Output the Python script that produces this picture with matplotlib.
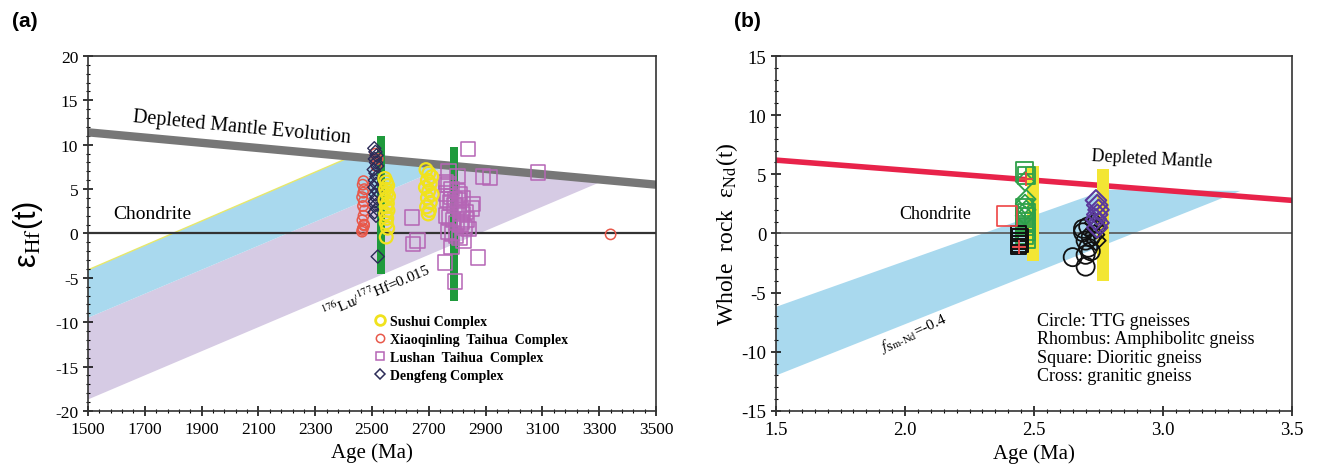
import matplotlib
matplotlib.use("Agg")
import matplotlib.pyplot as plt
from matplotlib.lines import Line2D
from matplotlib.ticker import MultipleLocator, AutoMinorLocator

plt.rcParams['mathtext.fontset'] = 'stix'
plt.rcParams['axes.unicode_minus'] = False
SERIF = ['Liberation Serif', 'DejaVu Serif']

# ---------------- panel (a): zircon Hf data ----------------
a_xticks = [1500, 1700, 1900, 2100, 2300, 2500, 2700, 2900, 3100, 3300, 3500]

dm_a_age = [1500, 3500]
dm_a_eps = [11.4, 5.5]

# crustal evolution bands (age, eps corners)
blue_age = [1500, 2400, 2763, 1500]
blue_eps = [-4.1, 8.3, 7.6, -9.5]
purple_age = [1500, 2763, 3319, 1500]
purple_eps = [-9.5, 7.6, 6.0, -18.7]

# green age bars: centre, bottom, top
bar_a_age = [2530, 2790]
bar_a_bottom = [-4.6, -7.6]
bar_a_top = [11.0, 9.8]

xq_age = [2465, 2468, 2472, 2466, 2470, 2474, 2468, 2471, 2465, 2469, 2473, 2467,
          2470, 2466, 2472, 2515, 2520, 2512, 3340]
xq_eps = [0.2, 0.6, 1.0, 1.5, 2.0, 2.6, 3.1, 3.6, 4.1, 4.6, 5.0, 5.5,
          5.9, 0.4, 0.9, 7.6, 8.4, 9.0, -0.1]

df_age = [2508, 2512, 2516, 2510, 2514, 2518, 2506, 2512, 2516, 2510, 2514, 2508,
          2518, 2512, 2515, 2510, 2513, 2517, 2509, 2514, 2520]
df_eps = [9.6, 9.2, 8.8, 8.4, 8.0, 7.6, 7.2, 6.8, 6.4, 6.0, 5.6, 5.2,
          4.8, 4.4, 4.0, 3.6, 3.2, 2.8, 2.4, 2.0, -2.6]

ss_age = [2545, 2550, 2555, 2548, 2552, 2558, 2546, 2554, 2550, 2556, 2548, 2552,
          2550, 2555, 2550, 2690, 2700, 2710, 2695, 2705, 2688, 2700, 2712, 2695,
          2705, 2692, 2702, 2698]
ss_eps = [6.2, 5.8, 5.4, 5.0, 4.6, 4.2, 3.8, 3.4, 3.0, 2.6, 2.2, 1.7,
          1.2, 0.6, -0.4, 7.2, 6.8, 6.4, 6.0, 5.6, 5.2, 4.8, 4.4, 4.0,
          3.5, 3.0, 2.6, 2.2]

ls_age = [2641, 2644, 2660, 2757, 2792, 2873, 2838, 2890, 2915, 3085, 2856,
          2760, 2770, 2780, 2800, 2810, 2820, 2765, 2775, 2790, 2805, 2815, 2830,
          2760, 2772, 2785, 2798, 2812, 2825, 2840, 2768, 2782, 2795, 2808, 2822,
          2762, 2778, 2792, 2806, 2818, 2835, 2770, 2800, 2850, 2780, 2815]
ls_eps = [1.8, -1.2, -0.8, -3.3, -5.4, -2.7, 9.5, 6.4, 6.3, 6.9, 3.3,
          5.8, 5.5, 5.0, 4.8, 4.4, 4.0, 3.8, 3.5, 3.2, 3.0, 2.6, 2.4,
          2.0, 1.8, 1.5, 1.2, 1.0, 0.7, 0.5, 0.2, 0.0, -0.3, -0.5, -0.8,
          4.5, 4.2, 3.9, 3.7, 2.2, 1.6, 7.0, 6.5, 2.8, -1.5, 1.3]

# ---------------- panel (b): whole rock Nd data ----------------
dm_b_age = [1.5, 3.5]
dm_b_eps = [6.2, 2.8]

band_b_age = [1.5, 2.78, 3.3, 1.5]
band_b_eps = [-6.2, 3.7, 3.6, -12.0]

bar_b_age = [2.496, 2.767]
bar_b_bottom = [-2.3, -4.0]
bar_b_top = [5.7, 5.45]

g_sq_age = [2.465, 2.47, 2.465, 2.47, 2.465, 2.47, 2.465, 2.47, 2.465, 2.47]
g_sq_eps = [5.3, 4.9, 2.2, 1.8, 1.4, 1.0, 0.6, 0.2, -0.2, -0.5]
g_dm_age = [2.465, 2.47, 2.465, 2.47, 2.465]
g_dm_eps = [4.4, 2.9, 2.5, 2.0, 1.5]
g_cr_age = [2.47, 2.465, 2.47]
g_cr_eps = [5.0, 1.2, 0.1]

k_sq_age = [2.44, 2.445, 2.44, 2.445, 2.44]
k_sq_eps = [0.0, -0.3, -0.6, -0.9, -1.1]
k_ci_age = [2.65, 2.70, 2.69, 2.72, 2.70, 2.71, 2.69, 2.72, 2.70, 2.71]
k_ci_eps = [-2.0, -2.8, 0.4, -1.5, -0.6, -1.2, 0.1, -0.3, -1.8, 0.6]
k_dm_age = [2.735, 2.74, 2.735, 2.74]
k_dm_eps = [0.9, 0.4, -0.1, -0.6]

p_dm_age = [2.74, 2.745, 2.75, 2.745, 2.74, 2.75, 2.745]
p_dm_eps = [2.8, 2.4, 2.0, 1.6, 1.2, 0.9, 0.5]

r_sq_age = [2.395]
r_sq_eps = [1.5]
r_cr_age = [2.47, 2.44]
r_cr_eps = [4.6, -1.1]

fig = plt.figure(figsize=(13.2, 4.77), dpi=100)
ax1 = fig.add_axes([0.0667, 0.1363, 0.4303, 0.7442])
ax2 = fig.add_axes([0.5879, 0.1363, 0.3909, 0.7442])

# ---- (a)
ax1.fill(purple_age, purple_eps, color='#d6cbe4', lw=0, zorder=1)
ax1.fill(blue_age, blue_eps, color='#a9d9ee', lw=0, zorder=1)
ax1.plot(blue_age[:2], blue_eps[:2], color='#e8e86a', lw=1, zorder=1.5)
ax1.axhline(0, color='#333333', lw=1.6, zorder=2)
ax1.plot(dm_a_age, dm_a_eps, color='#777777', lw=6, zorder=2, solid_capstyle='butt')
ax1.bar(bar_a_age, [t - b for t, b in zip(bar_a_top, bar_a_bottom)], bottom=bar_a_bottom,
        width=28, color='#1f9a3c', zorder=3)

ax1.scatter(ls_age, ls_eps, marker='s', s=110, facecolors='none', edgecolors='#b565b5',
            linewidths=1.1, zorder=4)
ax1.scatter(xq_age, xq_eps, marker='o', s=55, facecolors='none', edgecolors='#e8584a',
            linewidths=1.1, zorder=4)
ax1.scatter(df_age, df_eps, marker='D', s=45, facecolors='none', edgecolors='#2c2c58',
            linewidths=1.0, zorder=4)
ax1.scatter(ss_age, ss_eps, marker='o', s=85, facecolors='none', edgecolors='#f0e21e',
            linewidths=1.6, zorder=5)

ax1.set_xlim(1500, 3500)
ax1.set_ylim(-20, 20)
ax1.set_xticks(a_xticks)
ax1.xaxis.set_minor_locator(AutoMinorLocator(5))
ax1.yaxis.set_major_locator(MultipleLocator(5))
ax1.yaxis.set_minor_locator(MultipleLocator(1))

ax1.text(2040, 12.0, 'Depleted Mantle Evolution', rotation=-5.5, ha='center', va='center',
         family=SERIF, fontsize=14.5)
ax1.text(1725, 2.2, 'Chondrite', ha='center', va='center', family=SERIF, fontsize=14)
ax1.text(2514, -6.4, r'$^{176}$Lu/$^{177}$Hf=0.015', rotation=23, ha='center', va='center',
         family=SERIF, fontsize=11)

handles = [
    Line2D([], [], ls='none', marker='o', ms=7, mfc='none', mec='#f0e21e', mew=2),
    Line2D([], [], ls='none', marker='o', ms=6, mfc='none', mec='#e8584a', mew=1.1),
    Line2D([], [], ls='none', marker='s', ms=6, mfc='none', mec='#b565b5', mew=1.1),
    Line2D([], [], ls='none', marker='D', ms=5, mfc='none', mec='#2c2c58', mew=1.1),
]
labels = ['Sushui Complex', 'Xiaoqinling  Taihua  Complex', 'Lushan  Taihua  Complex',
          'Dengfeng Complex']
ax1.legend(handles, labels, loc='upper left', bbox_to_anchor=(0.49, 0.29), frameon=False,
           prop={'family': SERIF, 'size': 10, 'weight': 'bold'}, handletextpad=0.2,
           labelspacing=0.35, handlelength=1.0, borderpad=0)

ax1.set_xlabel('Age (Ma)', family=SERIF, fontsize=15)
ax1.set_ylabel(r'ε$_{\rm Hf}$(t)', family=['Liberation Sans', 'DejaVu Sans'], fontsize=22)
ax1.yaxis.set_label_coords(-0.075, 0.5)

# ---- (b)
ax2.fill(band_b_age, band_b_eps, color='#a9d9ee', lw=0, zorder=1)
ax2.axhline(0, color='#555555', lw=1.2, zorder=2)
ax2.plot(dm_b_age, dm_b_eps, color='#e8234a', lw=4, zorder=2)
ax2.bar(bar_b_age, [t - b for t, b in zip(bar_b_top, bar_b_bottom)], bottom=bar_b_bottom,
        width=0.045, color='#f3e634', zorder=3)

ax2.scatter(g_sq_age, g_sq_eps, marker='s', s=150, facecolors='none', edgecolors='#2ea04a',
            linewidths=1.3, zorder=4)
ax2.scatter(g_dm_age, g_dm_eps, marker='D', s=90, facecolors='none', edgecolors='#2ea04a',
            linewidths=1.3, zorder=4)
ax2.scatter(g_cr_age, g_cr_eps, marker='+', s=110, color='#2ea04a', linewidths=1.3, zorder=4)
ax2.scatter(k_sq_age, k_sq_eps, marker='s', s=130, facecolors='none', edgecolors='#111111',
            linewidths=1.4, zorder=4)
ax2.scatter(k_ci_age, k_ci_eps, marker='o', s=170, facecolors='none', edgecolors='#111111',
            linewidths=1.3, zorder=4)
ax2.scatter(k_dm_age, k_dm_eps, marker='D', s=100, facecolors='none', edgecolors='#111111',
            linewidths=1.3, zorder=4)
ax2.scatter(p_dm_age, p_dm_eps, marker='D', s=110, facecolors='none', edgecolors='#5b3a9c',
            linewidths=1.5, zorder=4)
ax2.scatter(r_sq_age, r_sq_eps, marker='s', s=200, facecolors='none', edgecolors='#ee4444',
            linewidths=1.2, zorder=4)
ax2.scatter(r_cr_age, r_cr_eps, marker='+', s=110, color='#ee4444', linewidths=1.3, zorder=4)

ax2.set_xlim(1.5, 3.5)
ax2.set_ylim(-15, 15)
ax2.xaxis.set_major_locator(MultipleLocator(0.5))
ax2.xaxis.set_minor_locator(MultipleLocator(0.05))
ax2.yaxis.set_major_locator(MultipleLocator(5))
ax2.yaxis.set_minor_locator(MultipleLocator(1))

ax2.text(2.957, 6.3, 'Depleted Mantle', rotation=-3, ha='center', va='center',
         family=SERIF, fontsize=13)
ax2.text(2.116, 1.65, 'Chondrite', ha='center', va='center', family=SERIF, fontsize=13)
ax2.text(2.03, -8.4, r'$f_{\rm Sm\text{-}Nd}$=-0.4', rotation=25, ha='center', va='center',
         family=SERIF, fontsize=11)
ax2.text(2.51, -6.6, 'Circle: TTG gneisses\nRhombus: Amphibolitc gneiss\n'
         'Square: Dioritic gneiss\nCross: granitic gneiss', ha='left', va='top',
         family=SERIF, fontsize=13, linespacing=1.12)

ax2.set_xlabel('Age (Ma)', family=SERIF, fontsize=15)
ax2.set_ylabel(r'Whole  rock  ε$_{\rm Nd}$(t)', family=SERIF, fontsize=17)
ax2.yaxis.set_label_coords(-0.07, 0.5)

for ax, fs in ((ax1, 12.5), (ax2, 13.5)):
    ax.tick_params(which='both', direction='inout', top=False, right=False)
    ax.tick_params(which='major', length=7, width=1.1, labelsize=fs)
    ax.tick_params(which='minor', length=3.5, width=0.8)
    for lab in ax.get_xticklabels() + ax.get_yticklabels():
        lab.set_family(SERIF)
    for sp in ax.spines.values():
        sp.set_linewidth(1.2)
        sp.set_color('#333333')

fig.text(0.009, 0.955, '(a)', fontsize=15, fontweight='bold', family='Liberation Sans', va='center')
fig.text(0.556, 0.955, '(b)', fontsize=15, fontweight='bold', family='Liberation Sans', va='center')

fig.savefig('out.png', dpi=100)
